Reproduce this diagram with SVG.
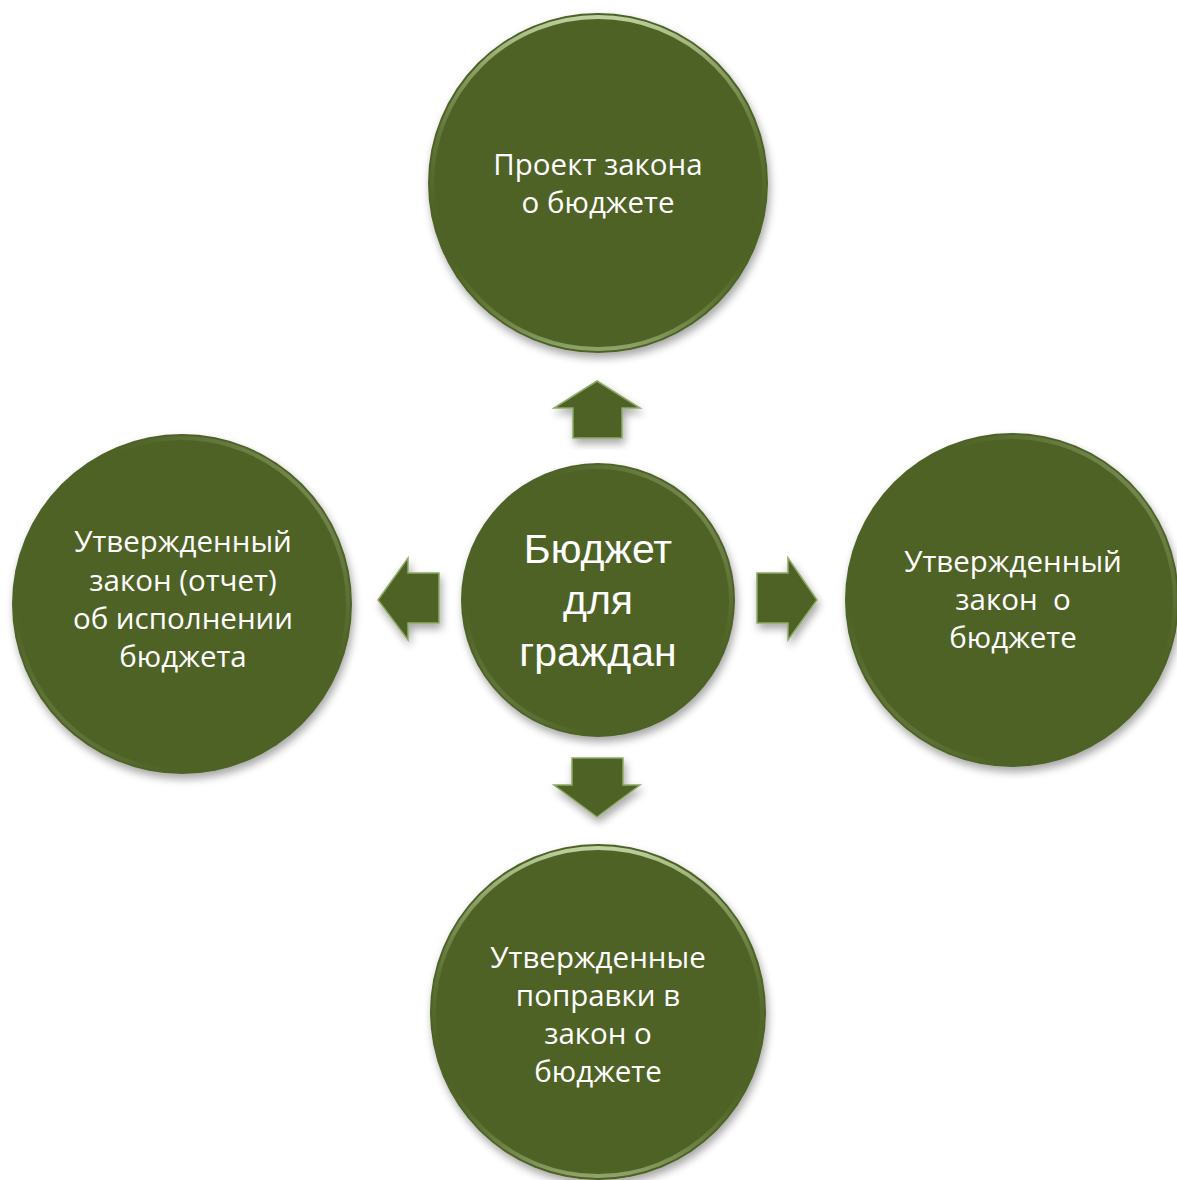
<svg xmlns="http://www.w3.org/2000/svg" width="1177" height="1180" viewBox="0 0 1177 1180">
<defs>
<filter id="sh" x="-20%" y="-20%" width="140%" height="140%">
<feGaussianBlur in="SourceAlpha" stdDeviation="4"/>
<feOffset dx="2" dy="5"/>
<feComponentTransfer><feFuncA type="linear" slope="0.35"/></feComponentTransfer>
<feMerge><feMergeNode/><feMergeNode in="SourceGraphic"/></feMerge>
</filter>
<linearGradient id="rim" x1="0" y1="0" x2="0" y2="1">
<stop offset="0" stop-color="#c9dcaa" stop-opacity="0.9"/>
<stop offset="0.35" stop-color="#8fa864" stop-opacity="0.3"/>
<stop offset="0.7" stop-color="#4f6228" stop-opacity="0"/>
<stop offset="1" stop-color="#b8cf93" stop-opacity="0.6"/>
</linearGradient>
<linearGradient id="rim2" x1="1" y1="0" x2="0" y2="1">
<stop offset="0" stop-color="#c9dcaa" stop-opacity="0.7"/>
<stop offset="0.4" stop-color="#4f6228" stop-opacity="0"/>
<stop offset="0.75" stop-color="#4f6228" stop-opacity="0"/>
<stop offset="1" stop-color="#c9dcaa" stop-opacity="0.8"/>
</linearGradient>
<style>
.c{fill:#4f6228;filter:url(#sh)}
.r{fill:none;stroke:url(#rim);stroke-width:4}
.r2{fill:none;stroke:url(#rim2);stroke-width:4}
.a{fill:#4f6228;stroke:#8fa864;stroke-width:1.5;stroke-linejoin:miter;filter:url(#sh)}
.t{fill:#ffffff;font-family:"Open Sans","Noto Sans","DejaVu Sans",sans-serif;font-size:29.5px;text-anchor:middle}
.tc{font-family:"Liberation Sans","Arial",sans-serif;font-size:41px}
</style>
</defs>
<g id="connectors">
<polygon class="a" points="597,381 640,408 622,408 622,438 573,438 573,408 554,408"/>
<polygon class="a" points="378,600 408,558 408,573 439,573 439,623 408,623 408,640"/>
<polygon class="a" points="817,600 788,558 788,573 757,573 757,623 788,623 788,640"/>
<polygon class="a" points="597,817 640,785 623,785 623,758 572,758 572,785 554,785"/>
</g>
<g id="node-top">
<circle class="c" cx="598" cy="183" r="170"/>
<circle class="r" cx="598" cy="183" r="166"/>
<text class="t" x="598" y="175">Проект закона</text>
<text class="t" x="598" y="213">о бюджете</text>
</g>
<g id="node-left">
<circle class="c" cx="182" cy="604" r="170"/>
<circle class="r2" cx="182" cy="604" r="166"/>
<text class="t" x="183" y="552">Утвержденный</text>
<text class="t" x="183" y="591">закон (отчет)</text>
<text class="t" x="183" y="629">об исполнении</text>
<text class="t" x="183" y="667">бюджета</text>
</g>
<g id="node-right">
<circle class="c" cx="1012" cy="600" r="167"/>
<circle class="r2" cx="1012" cy="600" r="163"/>
<text class="t" x="1013" y="572">Утвержденный</text>
<text class="t" x="1013" y="610" xml:space="preserve">закон  о</text>
<text class="t" x="1013" y="648">бюджете</text>
</g>
<g id="node-bottom">
<circle class="c" cx="598" cy="1012" r="168"/>
<circle class="r" cx="598" cy="1012" r="164"/>
<text class="t" x="598" y="968">Утвержденные</text>
<text class="t" x="598" y="1006">поправки в</text>
<text class="t" x="598" y="1044">закон о</text>
<text class="t" x="598" y="1082">бюджете</text>
</g>
<g id="node-center">
<circle class="c" cx="598" cy="600" r="137"/>
<circle class="r2" cx="598" cy="600" r="133"/>
<text class="t tc" x="598" y="563">Бюджет</text>
<text class="t tc" x="598" y="614">для</text>
<text class="t tc" x="598" y="666">граждан</text>
</g>
</svg>
